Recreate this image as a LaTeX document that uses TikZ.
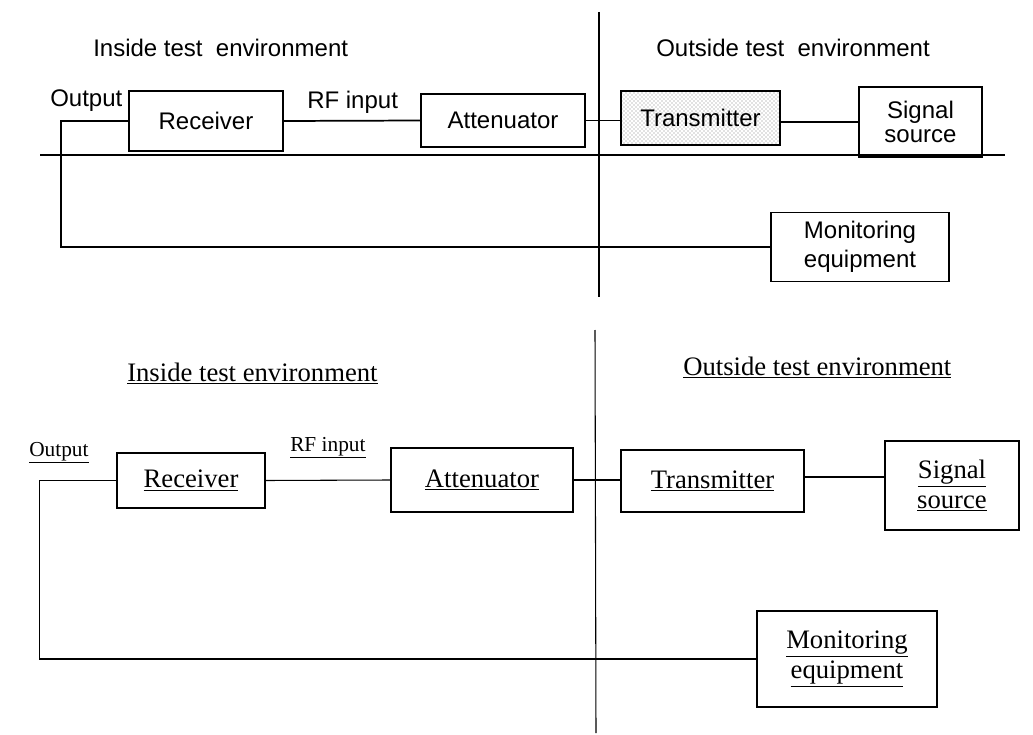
\documentclass[tikz,border=0pt]{standalone}
\usepackage{fontspec}
\setmainfont{Liberation Serif}
\setsansfont{Liberation Sans}
\usetikzlibrary{patterns}
\tikzset{
  topbox/.style={draw,line width=1pt,inner sep=0pt,align=center,font=\sffamily\fontsize{18}{21.5}\selectfont},
  botbox/.style={draw,line width=1.8pt,inner sep=0pt,align=center,font=\rmfamily\fontsize{20}{22.5}\selectfont},
  toptext/.style={anchor=base west,inner sep=0pt,font=\sffamily\fontsize{18}{21.5}\selectfont},
  bottext/.style={anchor=base west,inner sep=0pt,font=\rmfamily\fontsize{20}{22.5}\selectfont},
  smalltext/.style={anchor=base west,inner sep=0pt,font=\rmfamily\fontsize{16}{18}\selectfont},
  topwire/.style={line width=1.3pt},
  botwire/.style={line width=0.8pt},
}
\begin{document}
\begin{tikzpicture}[x=0.75pt,y=-0.75pt]
\useasboundingbox (0,0) rectangle (1033,735);

% upper picture
\coordinate (h1) at (40,155);
\coordinate (h2) at (1005,155);
\coordinate (v1) at (599,12);
\coordinate (v2) at (599,297);
\draw[line width=1.25pt] (h1) -- (h2);
\draw[line width=1.5pt] (v1) -- (v2);

\node[toptext] (in1) at (93,57) {Inside test\ \ environment};
\node[toptext] (out1) at (656,57) {Outside test\ \ environment};
\node[toptext] (op1) at (50,107) {Output};
\node[toptext] (rf1) at (307,109) {RF input};

\node[topbox,minimum width=115.5pt,minimum height=45pt] (rx1) at (206,121) {Receiver};
\node[topbox,minimum width=123pt,minimum height=39.75pt] (att1) at (503,120.5) {Attenuator};
\node[topbox,minimum width=119.25pt,minimum height=40.5pt,pattern=crosshatch dots,pattern color=gray] (tx1) at (700.5,118) {Transmitter};
\node[topbox,minimum width=92.25pt,minimum height=52.5pt,font=\sffamily\fontsize{18}{17.5}\selectfont] (sig1) at (920.5,122) {Signal\\source};
\node[topbox,minimum width=133.5pt,minimum height=51.75pt] (mon1) at (860,247) {Monitoring\\equipment};

\draw[topwire] (rx1.east) -- (att1.west);
\draw[topwire] (att1.east) -- (att1.east -| tx1.west);
\draw[topwire] (tx1.east |- sig1.west) -- (sig1.west);
\draw[topwire] (rx1.west) -- ++(-67,0) |- (mon1.west);

% lower picture
\coordinate (v3) at (595,330);
\coordinate (v4) at (596,733);
\draw[line width=0.8pt] (v3) -- (v4);

\node[bottext] (in2) at (127,381) {\underline{Inside test environment}};
\node[bottext] (out2) at (683,375) {\underline{Outside test environment}};
\node[smalltext] (op2) at (29,456) {\underline{Output}};
\node[smalltext] (rf2) at (290,451) {\underline{RF input}};

\node[botbox,minimum width=111pt,minimum height=41.25pt] (rx2) at (191,480.5) {\underline{Receiver}};
\node[botbox,minimum width=136.5pt,minimum height=48pt] (att2) at (482,480) {\underline{Attenuator}};
\node[botbox,minimum width=137.25pt,minimum height=46.5pt] (tx2) at (712.5,481) {\underline{Transmitter}};
\node[botbox,minimum width=100.5pt,minimum height=66.75pt] (sig2) at (952,485.5) {\underline{Signal}\\\underline{source}};
\node[botbox,minimum width=135pt,minimum height=72pt] (mon2) at (847,659) {\underline{Monitoring}\\\underline{equipment}};

\draw[botwire] (rx2.east) -- (att2.west);
\draw[botwire] (att2.east) -- (att2.east -| tx2.west);
\draw[botwire] ([yshift=3pt]tx2.east) -- ([yshift=3pt]tx2.east -| sig2.west);
\draw[botwire] (rx2.west) -- ++(-76,0) |- (mon2.west);
\end{tikzpicture}
\end{document}
